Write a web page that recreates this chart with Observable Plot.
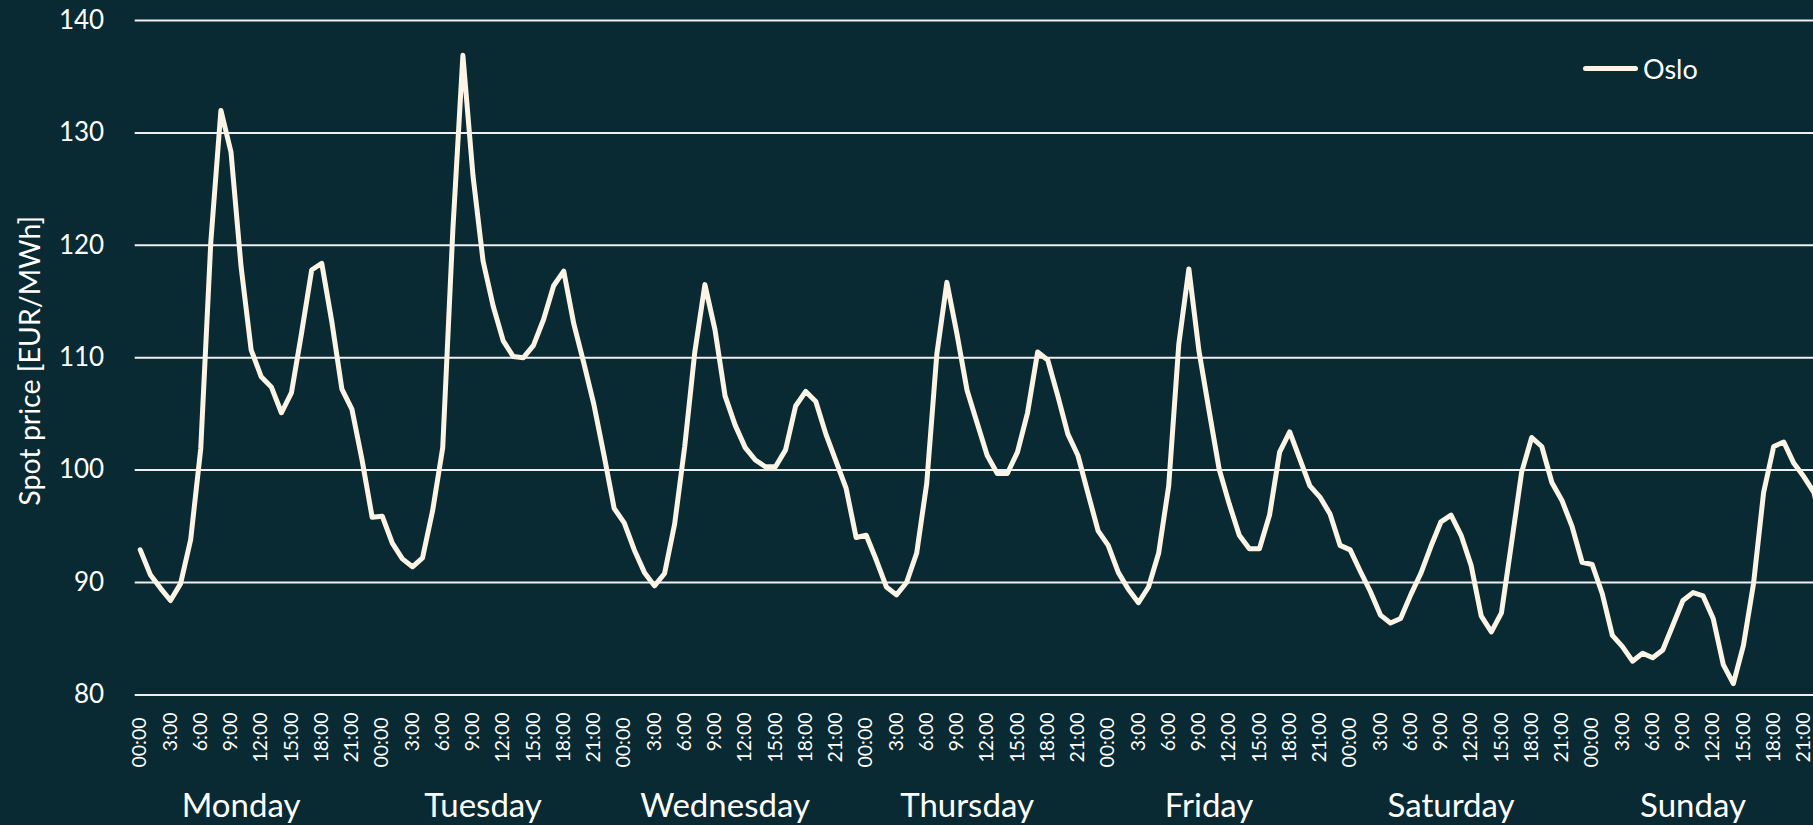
<!DOCTYPE html>
<html>
<head>
<meta charset="utf-8">
<script src="https://cdn.jsdelivr.net/npm/d3@7"></script>
<script src="https://cdn.jsdelivr.net/npm/@observablehq/plot@0.6"></script>
<style>
  html, body { margin: 0; padding: 0; background: #092a33; overflow: hidden; }
  #chart { position: relative; width: 1813px; height: 825px; background: #092a33; }
  #legend { position: absolute; left: 1583px; top: 52px; display: flex; align-items: center;
            font-family: Lato, "Open Sans", sans-serif; font-size: 27px; color: #ffffff; }
  #legend .swatch { width: 55px; height: 5px; border-radius: 3px; background: #fcf5e6; margin-right: 5px; }
</style>
</head>
<body>
<div id="chart"></div>
<script>
// ---- data ----
const days = ["Monday", "Tuesday", "Wednesday", "Thursday", "Friday", "Saturday", "Sunday"];
const hourLabels = ["00:00", "3:00", "6:00", "9:00", "12:00", "15:00", "18:00", "21:00"];
const yTicks = [80, 90, 100, 110, 120, 130, 140];
const seriesName = "Oslo";
// hourly spot price, Monday 00:00 ... Sunday 23:00
const oslo = [
  92.9, 90.7, 89.5, 88.4, 89.9, 93.8, 101.9, 120.3, 132.0, 128.3, 118.1, 110.7,
  108.3, 107.4, 105.1, 106.9, 112.2, 117.8, 118.4, 113.2, 107.2, 105.4, 100.9, 95.8,
  95.9, 93.5, 92.1, 91.4, 92.2, 96.4, 102.0, 121.3, 136.9, 126.2, 118.6, 114.6,
  111.5, 110.1, 110.0, 111.1, 113.4, 116.4, 117.7, 113.0, 109.5, 105.8, 101.3, 96.6,
  95.3, 92.9, 90.9, 89.7, 90.8, 95.2, 102.1, 110.5, 116.5, 112.5, 106.6, 104.0,
  102.0, 100.9, 100.3, 100.3, 101.8, 105.7, 107.0, 106.1, 103.2, 100.8, 98.4, 94.0,
  94.2, 92.0, 89.6, 88.9, 90.0, 92.6, 98.8, 110.3, 116.7, 112.1, 107.1, 104.2,
  101.3, 99.7, 99.7, 101.6, 105.1, 110.5, 109.8, 106.6, 103.2, 101.3, 97.9, 94.6,
  93.3, 90.9, 89.4, 88.2, 89.6, 92.6, 98.6, 111.2, 117.9, 110.6, 105.3, 100.1,
  97.0, 94.2, 93.0, 93.0, 96.0, 101.6, 103.4, 101.0, 98.6, 97.6, 96.1, 93.3,
  92.9, 91.0, 89.2, 87.1, 86.4, 86.8, 88.9, 90.8, 93.2, 95.4, 96.0, 94.2,
  91.5, 87.0, 85.6, 87.3, 93.5, 99.8, 102.9, 102.1, 98.9, 97.3, 95.0, 91.8,
  91.6, 89.0, 85.3, 84.3, 83.0, 83.7, 83.3, 84.0, 86.2, 88.4, 89.1, 88.8,
  86.8, 82.7, 81.0, 84.4, 89.9, 98.0, 102.1, 102.5, 100.6, 99.4, 98.0, 94.0
];

// ---- derived tables ----
const series = oslo.map((v, h) => ({ h, v }));
const tickTable = d3.range(0, oslo.length, 3).map(h => ({ h, label: hourLabels[(h % 24) / 3] }));
const dayTable = days.map((d, i) => ({ h: i * 24 + 10, d }));

const W = 1813, H = 825;
const mL = 134.7, mT = 20, mB = 130.6;
const hourStep = 10.083;

const chart = Plot.plot({
  width: W,
  height: H,
  marginLeft: mL,
  marginRight: 0,
  marginTop: mT,
  marginBottom: mB,
  style: { background: "#092a33", color: "#ffffff", fontFamily: "Lato, 'Open Sans', sans-serif", overflow: "hidden" },
  x: { type: "linear", domain: [-0.5, oslo.length - 0.5], range: [mL, mL + oslo.length * hourStep], axis: null },
  y: { domain: [80, 140], axis: null },
  marks: [
    Plot.ruleY(yTicks, { stroke: "#eef0f0", strokeWidth: 2 }),
    Plot.axisY(yTicks, { tickSize: 0, tickPadding: 31, fontSize: 26, fill: "#ffffff", label: null }),
    Plot.text([`Spot price [EUR/MWh]`], {
      frameAnchor: "left", dx: -104.7, dy: 3, rotate: -90,
      textAnchor: "middle", lineAnchor: "middle", fontSize: 28.5, fill: "#ffffff"
    }),
    Plot.line(series, {
      x: "h", y: "v", stroke: "#fcf5e6", strokeWidth: 5, strokeLinejoin: "round", strokeLinecap: "round", clip: true
    }),
    Plot.text(tickTable.filter(t => t.h % 24 !== 0), {
      x: "h", text: "label", frameAnchor: "bottom", dy: 17.5, rotate: -90,
      textAnchor: "end", lineAnchor: "middle", fontSize: 19.5, fill: "#ffffff"
    }),
    Plot.text(tickTable.filter(t => t.h % 24 === 0), {
      x: "h", text: "label", frameAnchor: "bottom", dy: 22.5, rotate: -90,
      textAnchor: "end", lineAnchor: "middle", fontSize: 19.5, fill: "#ffffff"
    }),
    Plot.text(dayTable, {
      x: "h", text: "d", frameAnchor: "bottom", dy: 122.5, lineAnchor: "bottom",
      fontSize: 33, fill: "#ffffff"
    })
  ]
});

const root = document.getElementById("chart");
root.appendChild(chart);
const legend = document.createElement("div");
legend.id = "legend";
legend.innerHTML = `<span class="swatch"></span><span>${seriesName}</span>`;
root.appendChild(legend);
</script>
</body>
</html>
